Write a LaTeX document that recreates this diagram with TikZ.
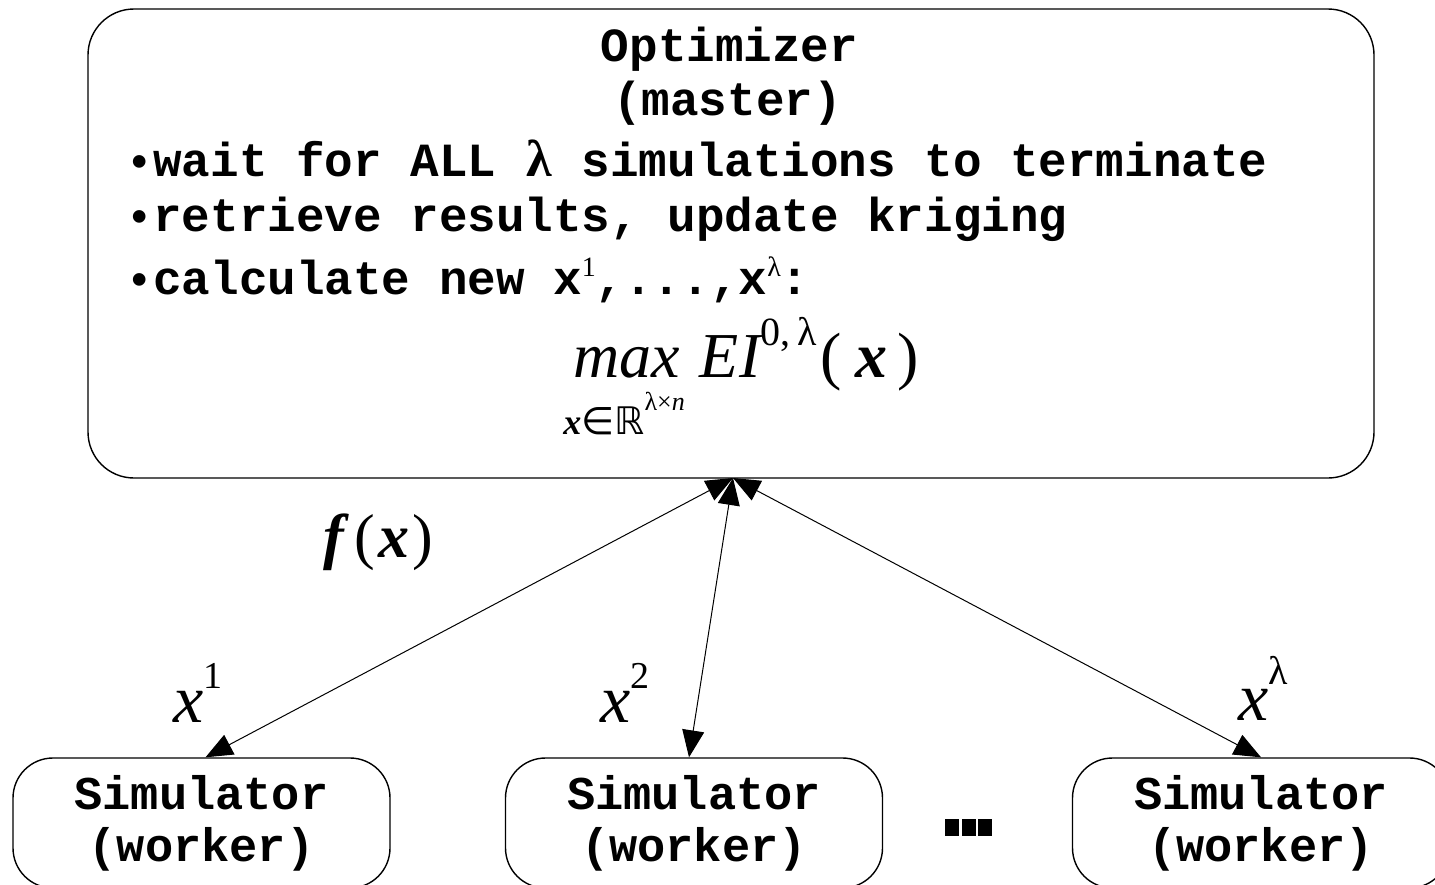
\documentclass[tikz,border=0pt]{standalone}
\usepackage{fontspec}
\setmainfont{Liberation Serif}
\newfontfamily\mono{Liberation Mono}
\newfontfamily\dvs{DejaVu Sans}
\usetikzlibrary{arrows.meta}
\begin{document}
\begin{tikzpicture}[x=0.5pt,y=-0.5pt,
  bigbox/.style={draw, line width=0.7pt, rounded corners=23pt, minimum width=643pt, minimum height=234.5pt, inner sep=0pt},
  simbox/.style={draw, line width=0.7pt, rounded corners=20pt, minimum width=188.5pt, minimum height=65pt, inner sep=0pt, align=center, font=\mono\bfseries\fontsize{23.5}{26}\selectfont},
  monotxt/.style={inner sep=0pt, font=\mono\bfseries\fontsize{23.8}{26}\selectfont},
  bullettxt/.style={inner sep=0pt, anchor=base west, font=\mono\bfseries\fontsize{22}{22}\selectfont},
  mathtxt/.style={inner sep=0pt, anchor=base west},
  conn/.style={line width=0.5pt, {Triangle[length=13.5pt,width=11pt]}-{Triangle[length=13.5pt,width=11pt]}}
]
\useasboundingbox (0,0) rectangle (1435,884);
\clip (0,0) rectangle (1435,884);

\node[bigbox] (opt) at (731,243.5) {};
\node[monotxt, anchor=base] (title1) at (729.5,61) {Optimizer};
\node[monotxt, anchor=base] (title2) at (727.5,115) {(master)};

\node[bullettxt] (b1) at (126,176) {•};
\node[bullettxt] (b2) at (126,231) {•};
\node[bullettxt] (b3) at (126,294) {•};
\node[monotxt, anchor=base west] (l1) at (153,176) {wait for ALL \makebox[0.6em]{\rmfamily\bfseries\fontsize{26}{26}\selectfont λ} simulations to terminate};
\node[monotxt, anchor=base west] (l2) at (153,231) {retrieve results, update kriging};
\node[monotxt, anchor=base west] (l3) at (153,294) {calculate new x\raisebox{9pt}{\rmfamily\mdseries\fontsize{14}{14}\selectfont 1},...,x\raisebox{9pt}{\rmfamily\mdseries\fontsize{14}{14}\selectfont λ}:};

\node[mathtxt] (ei) at (573,377) {\fontsize{32}{32}\selectfont\itshape max\hspace{10pt}EI\upshape\raisebox{16pt}{\fontsize{20}{20}\selectfont 0,\,λ}\hspace{2pt}(\hspace{7pt}{\bfseries\itshape x}\hspace{5pt})};
\node[mathtxt] (dom) at (563,434) {{\fontsize{18}{18}\selectfont\bfseries\itshape x}{\dvs\fontsize{19}{19}\selectfont ∈ℝ}\raisebox{12pt}{\fontsize{13}{13}\selectfont λ×\itshape n}};

\node[simbox] (sim1) at (201.5,823) {Simulator\\(worker)};
\node[simbox] (sim2) at (694,823) {Simulator\\(worker)};
\node[simbox] (sim3) at (1261,823) {Simulator\\(worker)};

\node[inner sep=0pt] (dots) at (968.5,827) {\rule{7pt}{8.5pt}\hspace{1.3pt}\rule{7pt}{8.5pt}\hspace{1.3pt}\rule{7pt}{8.5pt}};

\coordinate (apex) at (733,478);
\draw[conn] (apex) -- ([xshift=2pt]sim1.north);
\draw[conn] (apex) -- ([xshift=-2.5pt]sim2.north);
\draw[conn] (apex) -- (sim3.north);

\node[mathtxt] (fx) at (323,557) {\fontsize{31}{31}\selectfont{\bfseries\itshape f}\hspace{5pt}(\hspace{2pt}{\bfseries\itshape x}\hspace{1.5pt})};
\node[mathtxt] (x1) at (173,722) {{\fontsize{34}{34}\selectfont\itshape x}\raisebox{17pt}{\fontsize{19}{19}\selectfont 1}};
\node[mathtxt] (x2) at (600,722) {{\fontsize{34}{34}\selectfont\itshape x}\raisebox{17pt}{\fontsize{19}{19}\selectfont 2}};
\node[mathtxt] (xl) at (1238,720) {{\fontsize{34}{34}\selectfont\itshape x}\raisebox{18pt}{\fontsize{20}{20}\selectfont λ}};
\end{tikzpicture}
\end{document}
